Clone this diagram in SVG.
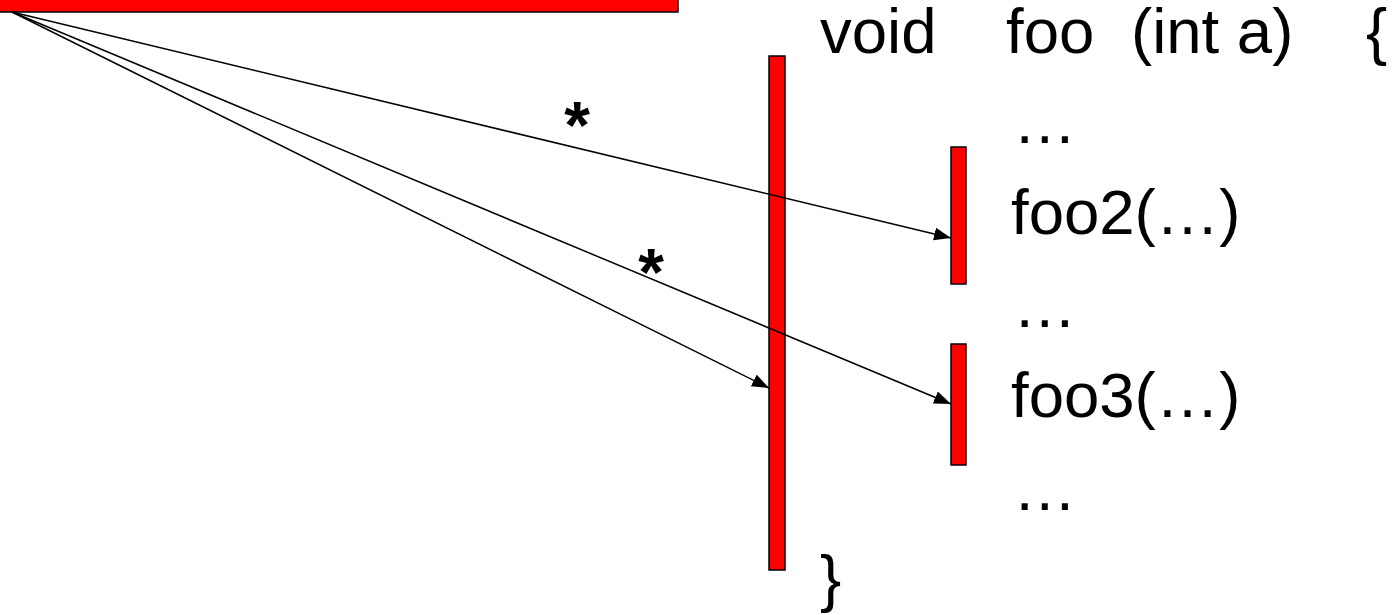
<svg xmlns="http://www.w3.org/2000/svg" width="1397" height="615" viewBox="0 0 1397 615">
<style>
.bar{fill:#ff0000;stroke:#000;stroke-width:1.5}
.t{font-family:"Liberation Sans",Arial,sans-serif;font-size:63.5px;fill:#000}
.star{font-family:"Liberation Sans",Arial,sans-serif;font-size:66px;font-weight:bold;fill:#000;text-anchor:middle}
.c{stroke:#000;stroke-width:1.5;fill:none;marker-end:url(#ah)}
</style>
<defs>
<marker id="ah" markerUnits="userSpaceOnUse" markerWidth="18" markerHeight="14" refX="17" refY="6.5" orient="auto">
<path d="M0,0 L17,6.5 L0,13 Z" fill="#000"/>
</marker>
</defs>
<rect width="1397" height="615" fill="#fff"/>
<g id="caller"><rect class="bar" x="-3" y="-20" width="681" height="32"/></g>
<g id="foo-activation"><rect class="bar" x="769" y="56" width="16" height="514"/></g>
<g id="foo2-activation"><rect class="bar" x="951" y="147" width="15" height="137"/></g>
<g id="foo3-activation"><rect class="bar" x="951" y="344" width="15" height="121"/></g>
<g id="connectors">
<line class="c" x1="12" y1="12" x2="951" y2="238"/>
<line class="c" x1="12" y1="12" x2="951" y2="404"/>
<line class="c" x1="12" y1="12" x2="769" y2="388"/>
</g>
<g id="labels">
<text class="star" x="577" y="148">*</text>
<text class="star" x="651" y="295">*</text>
</g>
<g id="code">
<text class="t" x="820" y="53">void</text>
<text class="t" x="1006" y="53">foo</text>
<text class="t" x="1131" y="53">(int a)</text>
<text class="t" x="1366" y="53">{</text>
<text class="t" x="1013" y="143">…</text>
<text class="t" x="1011" y="234">foo2(…)</text>
<text class="t" x="1013" y="327">…</text>
<text class="t" x="1011" y="417">foo3(…)</text>
<text class="t" x="1013" y="510">…</text>
<text class="t" x="820" y="600">}</text>
</g>
</svg>
